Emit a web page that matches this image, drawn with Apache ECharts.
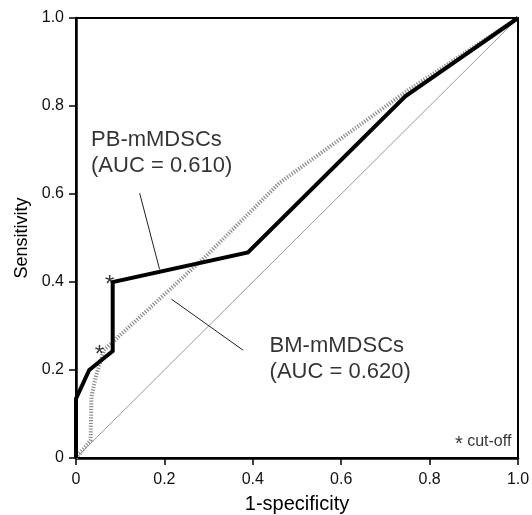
<!DOCTYPE html>
<html><head><meta charset="utf-8">
<script src="https://cdn.jsdelivr.net/npm/echarts@6/dist/echarts.min.js"></script>
<style>html,body{margin:0;padding:0;background:#fff}#c{width:532px;height:515px}</style>
</head><body><div id="c"></div>
<script>
// ---- data ----
const tickValues = [0, 0.2, 0.4, 0.6, 0.8, 1.0];
const pbX = [0, 0, 0.03, 0.083, 0.083, 0.389, 0.745, 1];
const pbY = [0, 0.135, 0.2, 0.243, 0.4, 0.467, 0.822, 1];
const bmX = [0, 0.033, 0.035, 0.045, 0.063, 0.29, 0.46, 0.75, 1];
const bmY = [0, 0.04, 0.14, 0.185, 0.245, 0.455, 0.625, 0.835, 1];
const refX = [0, 1];
const refY = [0, 1];
const cutoffX = [0.076, 0.053];
const cutoffY = [0.405, 0.247];
const pbLeaderX = [0.144, 0.189];
const pbLeaderY = [0.602, 0.429];
const bmLeaderX = [0.216, 0.378];
const bmLeaderY = [0.361, 0.245];
const labelTexts = ['PB-mMDSCs\n(AUC = 0.610)', 'BM-mMDSCs\n(AUC = 0.620)'];
const labelX = [0.034, 0.438];
const labelY = [0.6925, 0.226];
const noteX = 0.985, noteY = 0.037;

const zip = (xs, ys) => xs.map((x, i) => [x, ys[i]]);
const FONT = 'Liberation Sans, Arial, sans-serif';
const fmt = v => v === 0 ? '0' : v.toFixed(1);

const chart = echarts.init(document.getElementById('c'));
chart.setOption({
  animation: false,
  backgroundColor: '#fff',
  grid: { left: 76, right: 14, top: 18, bottom: 57, show: true, borderColor: '#000', borderWidth: 2, outerBoundsMode: 'none' },
  xAxis: {
    type: 'value', min: 0, max: 1, interval: 0.2,
    name: '1-specificity', nameLocation: 'middle', nameGap: 36,
    nameTextStyle: { fontFamily: FONT, fontSize: 20, color: '#000' },
    axisLine: { show: true, lineStyle: { color: '#000', width: 2.5 } },
    axisTick: { show: true, inside: false, length: 7, lineStyle: { color: '#000', width: 1.5 } },
    axisLabel: { margin: 14, fontFamily: FONT, fontSize: 16, color: '#111', formatter: fmt },
    splitLine: { show: false }
  },
  yAxis: {
    type: 'value', min: 0, max: 1, interval: 0.2,
    name: 'Sensitivity', nameLocation: 'middle', nameGap: 45, nameRotate: 90,
    nameTextStyle: { fontFamily: FONT, fontSize: 18, color: '#000' },
    axisLine: { show: true, lineStyle: { color: '#000', width: 2.5 } },
    axisTick: { show: true, inside: false, length: 7, lineStyle: { color: '#000', width: 1.5 } },
    axisLabel: { margin: 12, fontFamily: FONT, fontSize: 16, color: '#111', formatter: fmt },
    splitLine: { show: false }
  },
  series: [
    { type: 'line', data: zip(refX, refY), symbol: 'none', lineStyle: { color: '#999', width: 1 }, z: 1 },
    { type: 'line', data: zip(pbLeaderX, pbLeaderY), symbol: 'none', lineStyle: { color: '#222', width: 1 }, z: 1 },
    { type: 'line', data: zip(bmLeaderX, bmLeaderY), symbol: 'none', lineStyle: { color: '#222', width: 1 }, z: 1 },
    { name: 'BM-mMDSCs', type: 'line', data: zip(bmX, bmY), symbol: 'none',
      lineStyle: { color: '#8a8a8a', width: 4, type: [1.2, 1.6], cap: 'butt' }, z: 2 },
    { name: 'PB-mMDSCs', type: 'line', data: zip(pbX, pbY), symbol: 'none',
      lineStyle: { color: '#000', width: 4, join: 'miter' }, z: 3 },
    { type: 'scatter', data: zip(cutoffX, cutoffY), symbolSize: 0, z: 4,
      label: { show: true, position: 'inside', formatter: '*', fontFamily: FONT, fontSize: 24, color: '#000', offset: [0, 6] } },
    { type: 'scatter', data: labelX.map((x, i) => ({ value: [x, labelY[i]], text: labelTexts[i] })), symbolSize: 0, z: 4,
      label: { show: true, position: 'right', distance: 0, formatter: p => p.data.text, fontFamily: FONT, fontSize: 22, lineHeight: 26, color: '#000', textBorderWidth: 0, align: 'left', verticalAlign: 'middle' } },
    { type: 'scatter', data: [[noteX, noteY]], symbolSize: 0, z: 4,
      label: { show: true, position: 'left', distance: 0, formatter: '{a|*} cut-off',
        rich: { a: { fontFamily: FONT, fontSize: 20, color: '#000', padding: [6, 0, 0, 0] } },
        fontFamily: FONT, fontSize: 16, color: '#000', align: 'right', verticalAlign: 'middle' } }
  ]
});
</script></body></html>
